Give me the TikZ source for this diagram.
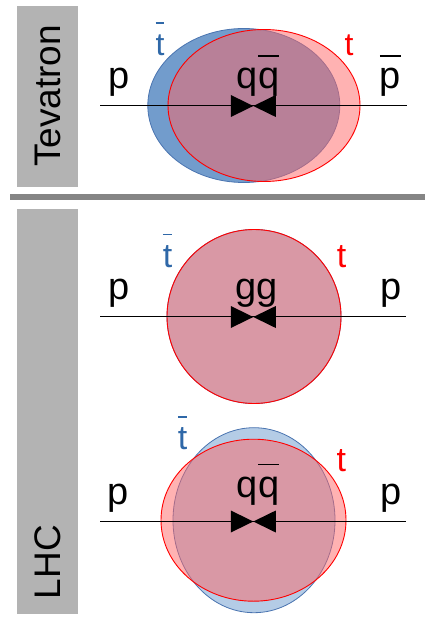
\documentclass[tikz,border=0pt]{standalone}
\usepackage{fontspec}
\setmainfont{Liberation Sans}

\definecolor{panelgray}{HTML}{B3B3B3}
\definecolor{rulegray}{HTML}{858585}
\definecolor{tbarblue}{HTML}{2F68A8}
\definecolor{tevblue}{HTML}{729CCC}
\definecolor{lhcblue}{HTML}{B4CCE6}
\definecolor{edgeblue}{HTML}{4A74B0}
\definecolor{topred}{HTML}{FF6666}

% a letter (or letters) with a bar above it
\newcommand{\ovbar}[1]{\setbox0\hbox{#1}\rlap{\raisebox{32pt}{\rule{\wd0}{1.4pt}}}\box0}

\tikzset{
  panel/.style={fill=panelgray, draw=none},
  sidetitle/.style={rotate=90, inner sep=0pt, font=\fontsize{37}{40}\selectfont},
  lbl/.style={anchor=base, inner sep=0pt, font=\fontsize{38}{40}\selectfont},
  toplbl/.style={anchor=base, inner sep=0pt},
  beam/.style={draw=black, line width=0.9pt},
  antitop/.style={fill=#1, draw=edgeblue, line width=0.8pt},
  top/.style={fill=topred, fill opacity=0.5, draw=red, draw opacity=1, line width=0.9pt},
  bowtie/.pic={
    \fill[black] (-22.5,-11) -- (0,0) -- (-22.5,11) -- cycle;
    \fill[black] (22.5,-11) -- (0,0) -- (22.5,11) -- cycle;
  }
}

\begin{document}
\begin{tikzpicture}[x=1pt, y=-1pt]
\useasboundingbox (0,0) rectangle (425,617);

% side panels and separator
\fill[panel] (17,6) rectangle (78,187);
\fill[panel] (17,209) rectangle (78,614);
\fill[rulegray] (10,194) rectangle (425,200.5);
\node[sidetitle] (tev) at (47.5,96) {Tevatron};
\node[sidetitle] (lhc) at (48,562) {LHC};

% ---------------- Tevatron: q qbar -> t tbar ----------------
\draw[antitop=tevblue] (243.8,105.5) ellipse [x radius=96pt, y radius=77pt];
\draw[top] (264,105.5) ellipse [x radius=96pt, y radius=76pt];
\coordinate (tevL) at (100,105.7);
\coordinate (tevR) at (407,105.7);
\draw[beam] (tevL) -- (tevR);
\pic at (253.3,106) {bowtie};
\node[lbl] (tevp) at (119,88.7) {p};
\node[lbl] (tevqq) at (258,88.7) {q\ovbar{q}};
\node[lbl] (tevpbar) at (390.5,88.7) {\ovbar{p}};
\node[toplbl, text=tbarblue, font=\fontsize{32}{34}\selectfont] (tevtbar) at (160,55.8) {\ovbar{t}};
\node[toplbl, text=red, font=\fontsize{32}{34}\selectfont] (tevt) at (349,55.8) {t};

% ---------------- LHC: g g -> t tbar ----------------
\draw[antitop=lhcblue] (254,316.5) circle [radius=87pt];
\draw[top] (254,316.5) circle [radius=87pt];
\coordinate (ggL) at (100,316.7);
\coordinate (ggR) at (406,316.7);
\draw[beam] (ggL) -- (ggR);
\pic at (253.3,317) {bowtie};
\node[lbl] (ggp1) at (119,299) {p};
\node[lbl] (gg) at (256.7,299) {gg};
\node[lbl] (ggp2) at (391,299) {p};
\node[toplbl, text=tbarblue, font=\fontsize{34}{36}\selectfont] (ggtbar) at (167.7,267) {\ovbar{t}};
\node[toplbl, text=red, font=\fontsize{34}{36}\selectfont] (ggt) at (341.7,267) {t};

% ---------------- LHC: q qbar -> t tbar ----------------
\draw[antitop=lhcblue] (254,520.2) ellipse [x radius=81pt, y radius=92.5pt];
\draw[top] (253.5,520.2) ellipse [x radius=92.5pt, y radius=81pt];
\coordinate (qqL) at (100,521);
\coordinate (qqR) at (406,521);
\draw[beam] (qqL) -- (qqR);
\pic at (253.3,521.5) {bowtie};
\node[lbl] (qqp1) at (118,504.7) {p};
\node[lbl] (qq) at (258,497.4) {q\ovbar{q}};
\node[lbl] (qqp2) at (391,504.7) {p};
\node[toplbl, text=tbarblue, font=\fontsize{34}{36}\selectfont] (qqtbar) at (182.5,449.5) {\ovbar{t}};
\node[toplbl, text=red, font=\fontsize{34}{36}\selectfont] (qqt) at (341.3,471) {t};
\end{tikzpicture}
\end{document}
